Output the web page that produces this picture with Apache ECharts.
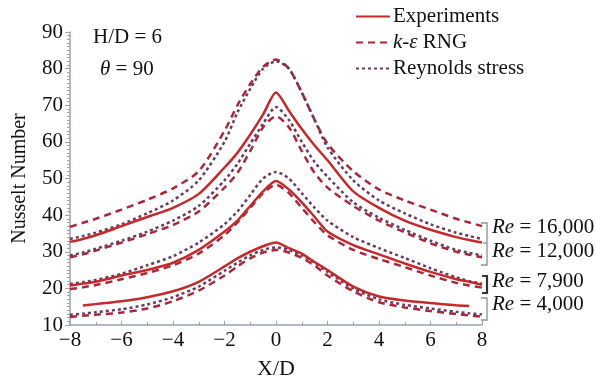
<!DOCTYPE html>
<html>
<head>
<meta charset="utf-8">
<script src="https://cdn.jsdelivr.net/npm/echarts@6/dist/echarts.min.js"></script>
<style>
  html, body { margin: 0; padding: 0; background: #fff; }
  #main { width: 595px; height: 377px; }
</style>
</head>
<body>
<div id="main"></div>
<script>
// X/D positions shared by all curves
const xs = [-8, -7.5, -7, -6, -5, -4, -3, -2, -1.5, -1, -0.5, 0, 0.5, 1, 1.5, 2, 3, 4, 5, 6, 7, 7.5, 8];

// Re = 16,000
const rng16000 = [36.8, 37.9, 39.0, 41.5, 44.2, 47.3, 52.0, 63.0, 70.0, 75.8, 80.5, 82.5, 80.0, 73.5, 66.0, 59.5, 52.0, 47.0, 44.0, 41.5, 39.0, 38.0, 37.0];
const rs16000 = [33.5, 34.3, 35.2, 37.5, 40.5, 44.0, 49.5, 60.0, 68.0, 74.5, 80.0, 82.0, 80.0, 73.5, 66.0, 58.5, 49.5, 44.0, 40.5, 37.5, 35.2, 34.3, 33.5];
const exp16000 = [32.7, 33.5, 34.5, 37.0, 39.5, 42.0, 45.8, 53.0, 57.0, 62.0, 67.5, 73.5, 68.5, 63.5, 59.0, 55.0, 46.5, 42.0, 38.5, 36.0, 34.0, 33.2, 32.5];
// Re = 12,000
const rng12000 = [28.5, 29.3, 30.3, 32.5, 34.8, 37.3, 41.0, 47.5, 51.5, 57.5, 64.0, 67.0, 64.0, 57.5, 51.5, 47.5, 42.5, 38.5, 35.3, 32.3, 30.0, 29.2, 28.5];
const rs12000 = [29.0, 29.8, 30.8, 33.0, 35.5, 38.5, 42.5, 49.5, 54.0, 59.5, 65.0, 69.5, 66.0, 60.0, 54.5, 50.5, 43.5, 39.3, 36.0, 33.0, 30.5, 29.7, 29.0];
// Re = 7,900
const exp7900 = [20.8, 21.3, 21.8, 23.5, 25.0, 27.0, 30.5, 35.5, 38.5, 42.5, 46.5, 49.3, 47.0, 43.5, 39.5, 35.5, 31.8, 29.3, 26.8, 24.5, 22.5, 21.8, 21.0];
const rs7900 = [21.2, 21.7, 22.3, 24.0, 26.3, 28.8, 32.5, 37.5, 41.0, 45.5, 50.0, 51.8, 50.0, 46.0, 42.0, 38.5, 34.0, 31.0, 28.3, 25.5, 23.0, 22.0, 21.3];
const rng7900 = [19.8, 20.3, 20.9, 22.5, 24.2, 26.3, 29.5, 34.5, 38.0, 42.0, 46.0, 48.3, 46.0, 42.0, 38.0, 34.5, 30.5, 28.0, 25.8, 23.5, 21.5, 20.8, 20.2];
// Re = 4,000
const exp4000 = [null, 15.3, 15.7, 16.5, 17.6, 19.2, 21.8, 26.0, 28.2, 30.0, 31.5, 32.5, 31.0, 29.5, 27.2, 25.0, 20.5, 17.8, 16.7, 16.0, 15.4, 15.2, null];
const rng4000 = [12.2, 12.5, 12.8, 13.4, 14.5, 16.5, 19.4, 23.5, 26.0, 28.2, 29.8, 30.5, 29.8, 28.3, 26.2, 23.5, 19.2, 16.2, 14.8, 13.8, 13.0, 12.6, 12.3];
const rs4000 = [12.8, 13.1, 13.5, 14.3, 15.6, 17.6, 20.5, 24.8, 27.0, 29.0, 30.5, 31.2, 30.5, 29.0, 27.0, 24.5, 20.0, 17.0, 15.5, 14.5, 13.6, 13.2, 12.9];

const reLabels = ['16,000', '12,000', '7,900', '4,000'];

const serif = 'Liberation Serif';
const cExp = '#c42a2c';
const cRng = '#a8283a';
const cRs = '#6b3a5c';

function pairs(vals) {
  return xs.map((x, i) => [x, vals[i]]);
}
function mk(name, vals, color, type) {
  return {
    name: name,
    type: 'line',
    data: pairs(vals),
    smooth: 0.25,
    symbol: 'none',
    connectNulls: false,
    lineStyle: { color: color, width: 2.5, type: type },
    itemStyle: { color: color },
    z: type === 'solid' ? 3 : 2
  };
}

const chart = echarts.init(document.getElementById('main'), null, { renderer: 'canvas' });

const option = {
  animation: false,
  backgroundColor: '#fff',
  textStyle: { fontFamily: serif, color: '#111' },
  grid: { left: 70, right: 113, top: 32, bottom: 52, containLabel: false, outerBoundsMode: 'none' },
  legend: {
    orient: 'vertical',
    left: 350,
    top: 1,
    itemWidth: 34,
    itemHeight: 14,
    itemGap: 5,
    data: ['Experiments', 'k-ε RNG', 'Reynolds stress'],
    itemStyle: { opacity: 0 },
    formatter: function (n) {
      return n === 'k-ε RNG' ? '{i|k-ε} RNG' : n;
    },
    textStyle: {
      fontFamily: serif, fontSize: 21, color: '#111', padding: [0, 0, 0, -2],
      rich: { i: { fontFamily: serif, fontSize: 21, fontStyle: 'italic', color: '#111' } }
    }
  },
  xAxis: {
    type: 'value',
    min: -8, max: 8, interval: 2,
    name: 'X/D',
    nameLocation: 'middle',
    nameGap: 33,
    nameTextStyle: { fontFamily: serif, fontSize: 22, color: '#111' },
    axisLine: { onZero: false, lineStyle: { color: '#97a3b0', width: 1.5 } },
    axisTick: { inside: true, length: 4, lineStyle: { color: '#97a3b0' } },
    minorTick: { show: true, splitNumber: 2, length: 3, lineStyle: { color: '#97a3b0' } },
    splitLine: { show: false },
    axisLabel: {
      fontFamily: serif, fontSize: 21, color: '#111', margin: 5,
      formatter: v => String(v).replace('-', '\u2212')
    }
  },
  yAxis: {
    type: 'value',
    min: 10, max: 90, interval: 10,
    name: 'Nusselt Number',
    nameLocation: 'middle',
    nameGap: 40,
    nameTextStyle: { fontFamily: serif, fontSize: 20, color: '#111' },
    axisLine: { show: true, onZero: false, lineStyle: { color: '#97a3b0', width: 1.5 } },
    axisTick: { show: true, length: 5, lineStyle: { color: '#97a3b0' } },
    minorTick: { show: true, splitNumber: 10, length: 3, lineStyle: { color: '#97a3b0' } },
    splitLine: { show: false },
    axisLabel: { fontFamily: serif, fontSize: 21, color: '#111', margin: 7 }
  },
  series: [
    mk('Experiments', exp16000, cExp, 'solid'),
    mk('k-ε RNG', rng16000, cRng, [7, 5]),
    mk('Reynolds stress', rs16000, cRs, [3, 3]),
    mk('k-ε RNG', rng12000, cRng, [7, 5]),
    mk('Reynolds stress', rs12000, cRs, [3, 3]),
    mk('Experiments', exp7900, cExp, 'solid'),
    mk('k-ε RNG', rng7900, cRng, [7, 5]),
    mk('Reynolds stress', rs7900, cRs, [3, 3]),
    mk('Experiments', exp4000, cExp, 'solid'),
    mk('k-ε RNG', rng4000, cRng, [7, 5]),
    mk('Reynolds stress', rs4000, cRs, [3, 3])
  ],
  graphic: [
    { type: 'text', left: 93, top: 27, style: { text: 'H/D = 6', font: '21px "Liberation Serif"', fill: '#111' } },
    { type: 'text', left: 100, top: 59, style: {
        text: '{i|θ} = 90', font: '21px "Liberation Serif"', fill: '#111',
        rich: { i: { font: 'italic 21px "Liberation Serif"', fill: '#111' } } } },
    // brackets on the right
    { type: 'polyline', shape: { points: [[481, 223], [487, 223], [487, 265], [481, 265]] }, style: { stroke: '#8a8f96', lineWidth: 1.3, fill: null } },
    { type: 'polyline', shape: { points: [[483, 243], [487, 243]] }, style: { stroke: '#8a8f96', lineWidth: 1.3 } },
    { type: 'polyline', shape: { points: [[482, 276], [487, 276], [487, 293], [482, 293]] }, style: { stroke: '#333', lineWidth: 2.2, fill: null } },
    { type: 'polyline', shape: { points: [[481, 298], [487, 298], [487, 320], [481, 320]] }, style: { stroke: '#8a8f96', lineWidth: 1.3, fill: null } }
  ].concat(reLabels.map((r, i) => ({
    type: 'text', left: 492, top: [217, 241, 271, 294][i],
    style: {
      text: '{i|Re} = ' + r, font: '21px "Liberation Serif"', fill: '#111',
      rich: { i: { font: 'italic 21px "Liberation Serif"', fill: '#111' } }
    }
  })))
};

chart.setOption(option);
</script>
</body>
</html>
